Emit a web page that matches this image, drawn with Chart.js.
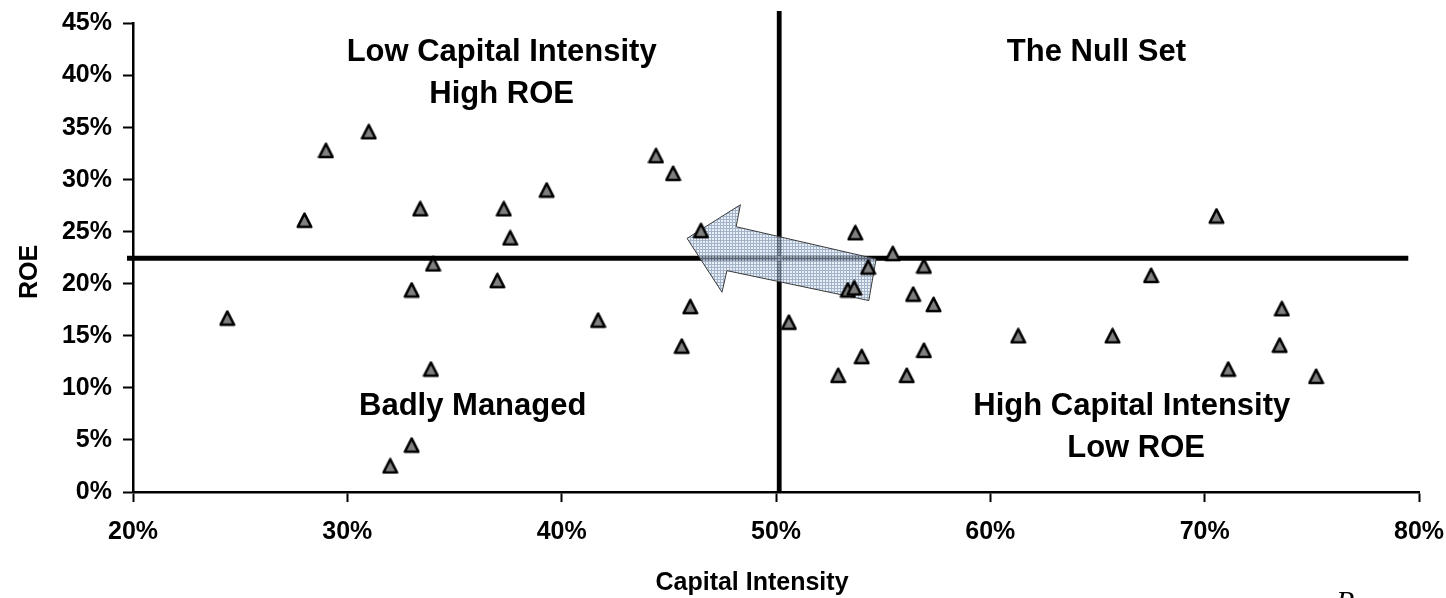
<!DOCTYPE html>
<html>
<head>
<meta charset="utf-8">
<script src="https://cdn.jsdelivr.net/npm/chart.js@4.4.1/dist/chart.umd.min.js"></script>
<style>
  html, body { margin: 0; padding: 0; background: #fff; }
  canvas { display: block; }
</style>
</head>
<body>
<canvas id="chart" width="1446" height="598"></canvas>
<script>
// data (percent)
const capIntensity = [24.4, 28.0, 29.0, 31.0, 33.0, 33.4, 34.0, 33.9, 33.0, 32.0,
                      37.0, 37.3, 37.6, 39.3, 41.7, 44.4, 45.2, 46.5, 46.0, 45.6,
                      50.6, 52.9, 53.35, 53.65, 53.7, 54.0, 54.3, 55.45, 56.1, 56.4,
                      56.9, 56.9, 57.35, 61.3, 65.7, 67.5, 70.55, 71.1, 73.5, 73.6, 75.2];
const roe = [16.7, 26.1, 32.8, 34.6, 19.4, 27.2, 21.9, 11.8, 4.5, 2.5,
             20.3, 27.2, 24.4, 29.0, 16.5, 32.3, 30.6, 25.1, 17.8, 14.0,
             16.3, 11.2, 19.4, 19.6, 24.9, 13.0, 21.6, 22.9, 11.2, 19.0,
             13.6, 21.7, 18.0, 15.0, 15.0, 20.8, 26.5, 11.8, 14.1, 17.6, 11.1];

const xTicks = [20, 30, 40, 50, 60, 70, 80];
const yTicks = [0, 5, 10, 15, 20, 25, 30, 35, 40, 45];

// quadrant dividers
const quadrantX = 50.15;
const quadrantY = 22.45;

// arrow outline in data units (x %, y %)
const arrowShape = [[45.85, 24.36], [48.34, 27.59], [48.14, 25.48], [54.67, 22.38],
                    [54.33, 18.39], [47.71, 21.26], [47.48, 19.19]];

// quadrant captions: text, centre x %, baseline y %
const quadrantLabels = [
  ['Low Capital Intensity', 37.2, 41.4],
  ['High ROE', 37.2, 37.4],
  ['The Null Set', 64.95, 41.4],
  ['Badly Managed', 35.85, 7.4],
  ['High Capital Intensity', 66.6, 7.4],
  ['Low ROE', 66.8, 3.35]
];

const FONT = '"Liberation Sans", Arial, Helvetica, sans-serif';

function makeMarker() {
  const c = document.createElement('canvas');
  c.width = 17; c.height = 17;
  const g = c.getContext('2d');
  g.beginPath();
  g.moveTo(8.5, 1.75);
  g.lineTo(15.25, 15.0);
  g.lineTo(1.75, 15.0);
  g.closePath();
  g.fillStyle = '#808080';
  g.fill();
  g.lineWidth = 2.6;
  g.lineJoin = 'round';
  g.strokeStyle = '#000';
  g.stroke();
  return c;
}

function makePattern(ctx) {
  const c = document.createElement('canvas');
  c.width = 3; c.height = 3;
  const g = c.getContext('2d');
  g.fillStyle = '#dfe7f2';
  g.fillRect(0, 0, 3, 3);
  g.fillStyle = '#7d93b3';
  g.fillRect(0, 0, 3, 1);
  g.fillRect(0, 0, 1, 3);
  return ctx.createPattern(c, 'repeat');
}

const overlay = {
  id: 'overlay',
  beforeDatasetDraw(chart, args) {
    if (args.index !== 0) return;
    const { ctx, scales: { x, y } } = chart;
    ctx.save();
    ctx.beginPath();
    arrowShape.forEach(([vx, vy], i) => {
      const px = x.getPixelForValue(vx), py = y.getPixelForValue(vy);
      if (i === 0) ctx.moveTo(px, py); else ctx.lineTo(px, py);
    });
    ctx.closePath();
    ctx.globalAlpha = 0.7;
    ctx.fillStyle = makePattern(ctx);
    ctx.fill();
    ctx.globalAlpha = 1;
    ctx.lineWidth = 1;
    ctx.strokeStyle = '#3a3a3a';
    ctx.stroke();
    ctx.restore();
  },
  afterDraw(chart) {
    const { ctx, scales: { x, y } } = chart;
    ctx.save();
    ctx.fillStyle = '#000';
    ctx.textAlign = 'center';
    ctx.textBaseline = 'alphabetic';
    ctx.font = 'bold 31px ' + FONT;
    quadrantLabels.forEach(([t, vx, vy]) => {
      ctx.fillText(t, x.getPixelForValue(vx), y.getPixelForValue(vy));
    });
    // axis titles
    ctx.font = 'bold 25px ' + FONT;
    ctx.fillText('Capital Intensity', 752, 590);
    ctx.save();
    ctx.translate(37, 272);
    ctx.rotate(-Math.PI / 2);
    ctx.fillText('ROE', 0, 0);
    ctx.restore();
    // clipped glyph at bottom right
    ctx.font = 'italic 30px "Liberation Serif", "DejaVu Serif", serif';
    ctx.textAlign = 'left';
    ctx.textBaseline = 'top';
    ctx.fillText('P', 1336, 588);
    ctx.restore();
  }
};

const tickFont = { family: FONT, size: 25, weight: 'bold' };

new Chart(document.getElementById('chart'), {
  type: 'scatter',
  data: {
    datasets: [
      {
        data: capIntensity.map((v, i) => ({ x: v, y: roe[i] })),
        pointStyle: makeMarker(),
        pointRadius: 8,
        pointHoverRadius: 8
      },
      {
        data: [{ x: 19.72, y: quadrantY }, { x: 79.5, y: quadrantY }],
        showLine: true, pointRadius: 0, borderColor: '#000', borderWidth: 4.8, clip: false
      },
      {
        data: [{ x: quadrantX, y: 0 }, { x: quadrantX, y: 46.2 }],
        showLine: true, pointRadius: 0, borderColor: '#000', borderWidth: 4.8, clip: false
      }
    ]
  },
  options: {
    responsive: false,
    animation: false,
    devicePixelRatio: 1,
    events: [],
    layout: { padding: { left: 0, right: 27, top: 23.5, bottom: 0 } },
    plugins: { legend: { display: false }, tooltip: { enabled: false } },
    scales: {
      x: {
        type: 'linear', min: 20, max: 80,
        afterBuildTicks: s => { s.ticks = xTicks.map(v => ({ value: v })); },
        afterFit: s => { s.height = 106; s.paddingLeft = 0; s.paddingRight = 0; },
        ticks: { callback: v => v + '%', font: tickFont, color: '#000', padding: 15, maxRotation: 0 },
        grid: { drawOnChartArea: false, tickLength: 10, tickColor: '#000', tickWidth: 2 },
        border: { color: '#000', width: 2.5 },
        title: { display: false }
      },
      y: {
        type: 'linear', min: 0, max: 45,
        afterBuildTicks: s => { s.ticks = yTicks.map(v => ({ value: v })); },
        afterFit: s => { s.width = 133; s.paddingTop = 0; s.paddingBottom = 0; },
        ticks: { callback: v => v + '%', font: tickFont, color: '#000', padding: 11 },
        grid: { drawOnChartArea: false, tickLength: 10, tickColor: '#000', tickWidth: 2 },
        border: { color: '#000', width: 2.5 },
        title: { display: false }
      }
    }
  },
  plugins: [overlay]
});
</script>
</body>
</html>
